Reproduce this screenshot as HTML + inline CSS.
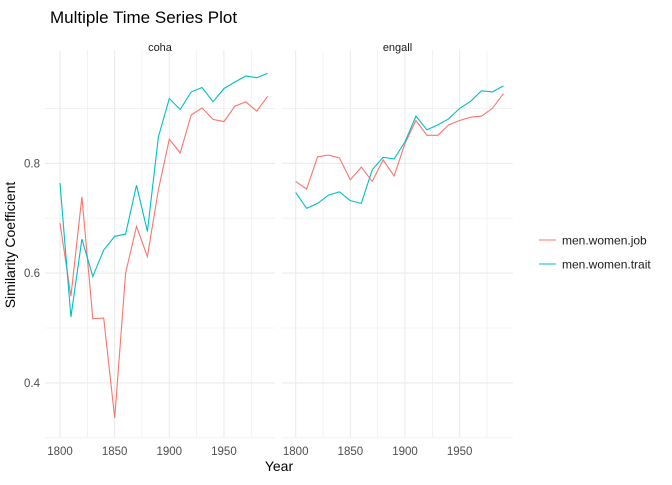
<!DOCTYPE html>
<html><head><meta charset="utf-8"><style>
body{margin:0;background:#fff;font-family:"Liberation Sans",Arial,sans-serif}
svg text{font-family:"Liberation Sans",Arial,sans-serif}
</style></head><body>
<svg id="chart" width="672" height="480" xmlns="http://www.w3.org/2000/svg">
<text x="50" y="23" font-size="17" fill="#000">Multiple Time Series Plot</text>
<text x="15" y="245" font-size="14" fill="#000" text-anchor="middle" transform="rotate(-90 15 245)">Similarity Coefficient</text>
<text x="279" y="471" font-size="14" fill="#000" text-anchor="middle">Year</text>
<g>
<line x1="539" y1="240" x2="556" y2="240" stroke="#F8766D" stroke-width="1"/>
<text x="562" y="244.5" font-size="12" fill="#1a1a1a">men.women.job</text>
<line x1="539" y1="264" x2="556" y2="264" stroke="#00BFC4" stroke-width="1"/>
<text x="562" y="268.5" font-size="12" fill="#1a1a1a">men.women.trait</text>
</g>
<g id="plot"></g>
</svg>
<script>
const years=[1800,1810,1820,1830,1840,1850,1860,1870,1880,1890,1900,1910,1920,1930,1940,1950,1960,1970,1980,1990];
const cohaJob=[0.691,0.558,0.739,0.517,0.518,0.336,0.600,0.685,0.630,0.752,0.844,0.819,0.888,0.901,0.880,0.876,0.904,0.912,0.895,0.922];
const cohaTrait=[0.764,0.520,0.662,0.594,0.642,0.667,0.671,0.760,0.676,0.848,0.918,0.898,0.930,0.938,0.912,0.936,0.948,0.959,0.956,0.964];
const engJob=[0.767,0.753,0.812,0.815,0.810,0.770,0.793,0.767,0.806,0.777,0.836,0.878,0.851,0.851,0.870,0.878,0.884,0.886,0.900,0.927];
const engTrait=[0.747,0.718,0.727,0.742,0.748,0.732,0.727,0.788,0.811,0.808,0.839,0.886,0.861,0.870,0.881,0.900,0.913,0.932,0.930,0.941];
const xTicks=[1800,1850,1900,1950];
const xMinor=[1825,1875,1925,1975];
const yTicks=[0.4,0.6,0.8];
const yMinor=[0.3,0.5,0.7,0.9];
const panels=[{name:'coha',x0:60,job:cohaJob,trait:cohaTrait,left:45,right:275},
{name:'engall',x0:295.7,job:engJob,trait:engTrait,left:282,right:513}];
const plotTop=50,plotBottom=437;
const yS=v=>163.3-(v-0.8)*549;
const NS='http://www.w3.org/2000/svg';
const g=document.getElementById('plot');
function mk(t,a){const e=document.createElementNS(NS,t);for(const k in a)e.setAttribute(k,a[k]);g.appendChild(e);return e;}
panels.forEach(p=>{
 const xS=y=>p.x0+(y-1800)*1.093;
 xMinor.forEach(t=>{const l=mk('line',{x1:xS(t),x2:xS(t),y1:plotTop,y2:plotBottom,stroke:'#EBEBEB','stroke-width':0.6});
  
  });
 yMinor.forEach(t=>{const l=mk('line',{x1:p.left,x2:p.right,y1:yS(t),y2:yS(t),stroke:'#EBEBEB','stroke-width':0.6});
  
  });
 xTicks.forEach(t=>{const l=mk('line',{x1:xS(t),x2:xS(t),y1:plotTop,y2:plotBottom,stroke:'#EBEBEB','stroke-width':1.1});
  
  
  const tx=mk('text',{x:xS(t),y:455,'font-size':11.5,fill:'#4d4d4d','text-anchor':'middle'});tx.textContent=t;
  
  });
 yTicks.forEach(t=>{const l=mk('line',{x1:p.left,x2:p.right,y1:yS(t),y2:yS(t),stroke:'#EBEBEB','stroke-width':1.1});
  
  });
 const st=mk('text',{x:(p.left+p.right)/2,y:51,'font-size':11,fill:'#1a1a1a','text-anchor':'middle'});st.textContent=p.name;
 
 
 [['job','#F8766D'],['trait','#00BFC4']].forEach(([k,c])=>{
  const d=years.map((y,i)=>(i?'L':'M')+xS(y).toFixed(1)+' '+yS(p[k][i]).toFixed(1)).join(' ');
  const pa=mk('path',{d:d,fill:'none',stroke:c,'stroke-width':1.1});
  
  
 });
});
yTicks.forEach(t=>{const tx=mk('text',{x:40,y:yS(t)+4,'font-size':11.5,fill:'#4d4d4d','text-anchor':'end'});tx.textContent=t.toFixed(1);
 
 });
</script>
</body></html>
